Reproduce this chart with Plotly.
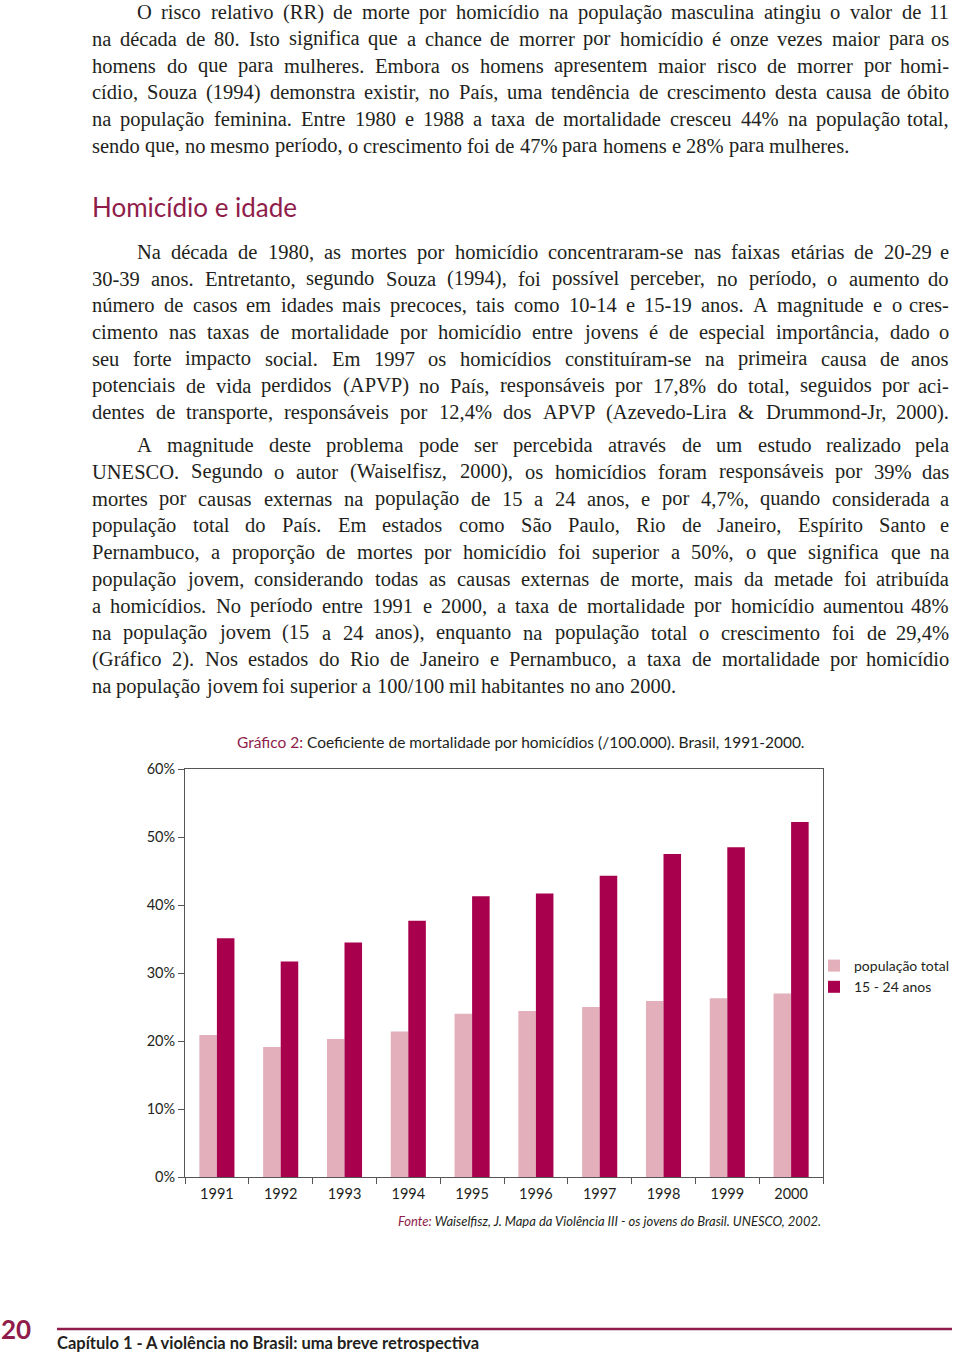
import unicodedata
import plotly.graph_objects as go

# ---------------- data ----------------
years = ["1991", "1992", "1993", "1994", "1995", "1996", "1997", "1998", "1999", "2000"]
pop_total = [20.9, 19.1, 20.3, 21.4, 24.0, 24.4, 25.0, 25.9, 26.3, 27.0]
jovens_15_24 = [35.1, 31.7, 34.5, 37.7, 41.3, 41.7, 44.3, 47.5, 48.5, 52.2]
series_names = ["população total", "15 - 24 anos"]
y_ticks = [0, 10, 20, 30, 40, 50, 60]
y_tick_labels = ["0%", "10%", "20%", "30%", "40%", "50%", "60%"]

para1 = [
    "O risco relativo (RR) de morte por homicídio na população masculina atingiu o valor de 11",
    "na década de 80. Isto significa que a chance de morrer por homicídio é onze vezes maior para os",
    "homens do que para mulheres. Embora os homens apresentem maior risco de morrer por homi-",
    "cídio, Souza (1994) demonstra existir, no País, uma tendência de crescimento desta causa de óbito",
    "na população feminina. Entre 1980 e 1988 a taxa de mortalidade cresceu 44% na população total,",
    "sendo que, no mesmo período, o crescimento foi de 47% para homens e 28% para mulheres.",
]
para2 = [
    "Na década de 1980, as mortes por homicídio concentraram-se nas faixas etárias de 20-29 e",
    "30-39 anos. Entretanto, segundo Souza (1994), foi possível perceber, no período, o aumento do",
    "número de casos em idades mais precoces, tais como 10-14 e 15-19 anos. A magnitude e o cres-",
    "cimento nas taxas de mortalidade por homicídio entre jovens é de especial importância, dado o",
    "seu forte impacto social. Em 1997 os homicídios constituíram-se na primeira causa de anos",
    "potenciais de vida perdidos (APVP) no País, responsáveis por 17,8% do total, seguidos por aci-",
    "dentes de transporte, responsáveis por 12,4% dos APVP (Azevedo-Lira & Drummond-Jr, 2000).",
]
para3 = [
    "A magnitude deste problema pode ser percebida através de um estudo realizado pela",
    "UNESCO. Segundo o autor (Waiselfisz, 2000), os homicídios foram responsáveis por 39% das",
    "mortes por causas externas na população de 15 a 24 anos, e por 4,7%, quando considerada a",
    "população total do País. Em estados como São Paulo, Rio de Janeiro, Espírito Santo e",
    "Pernambuco, a proporção de mortes por homicídio foi superior a 50%, o que significa que na",
    "população jovem, considerando todas as causas externas de morte, mais da metade foi atribuída",
    "a homicídios. No período entre 1991 e 2000, a taxa de mortalidade por homicídio aumentou 48%",
    "na população jovem (15 a 24 anos), enquanto na população total o crescimento foi de 29,4%",
    "(Gráfico 2). Nos estados do Rio de Janeiro e Pernambuco, a taxa de mortalidade por homicídio",
    "na população jovem foi superior a 100/100 mil habitantes no ano 2000.",
]
heading = "Homicídio e idade"
chart_title_lead = "Gráfico 2:"
chart_title_rest = " Coeficiente de mortalidade por homicídios (/100.000). Brasil, 1991-2000."
source_lead = "Fonte:"
source_rest = " Waiselfisz, J. Mapa da Violência III - os jovens do Brasil. UNESCO, 2002."
page_number = "20"
footer_text = "Capítulo 1 - A violência no Brasil: uma breve retrospectiva"

# ---------------- style ----------------
W, H = 960, 1357
CRIMSON = "#8F1C4A"
DARK = "#A8004C"
LIGHT = "#E2AFBA"
INK = "#231F20"
SERIF = "'Liberation Serif', 'Times New Roman', serif"
COND = "Lato, Roboto, sans-serif"
SANS = "Lato, Roboto, sans-serif"
BODY_SIZE = 20.5
LEFT, RIGHT, INDENT = 91, 950, 136


def px(x):
    return x / W


def py(y):
    return 1 - y / H


# Times-compatible advance widths (units / 1000 em) for justification
_w = {" ": 250, ".": 250, ",": 250, ":": 278, ";": 278, "(": 333, ")": 333, "-": 333,
      "%": 833, "&": 778, "/": 278, "'": 333}
for c in "0123456789":
    _w[c] = 500
for c, v in zip("ABCDEFGHIJKLMNOPQRSTUVWXYZ",
                [722, 667, 667, 722, 611, 556, 722, 722, 333, 389, 722, 611, 889,
                 722, 722, 556, 722, 667, 556, 611, 722, 722, 944, 722, 722, 611]):
    _w[c] = v
for c, v in zip("abcdefghijklmnopqrstuvwxyz",
                [444, 500, 444, 500, 444, 333, 500, 500, 278, 278, 500, 278, 778,
                 500, 500, 500, 500, 333, 389, 278, 500, 500, 722, 500, 500, 444]):
    _w[c] = v


def word_width(word, size):
    tot = 0
    for ch in word:
        base = unicodedata.normalize("NFD", ch)[0]
        tot += _w.get(base, 500)
    return tot * size / 1000


annotations = []


def add_paragraph(lines, y0, step, justify_last=False):
    for i, line in enumerate(lines):
        y = y0 + i * step
        left = INDENT if i == 0 else LEFT
        words = line.split(" ")
        widths = [word_width(w_, BODY_SIZE) for w_ in words]
        last = i == len(lines) - 1
        justify = (not last) or justify_last
        if justify and len(words) > 1:
            gap = (RIGHT - left - sum(widths)) / (len(words) - 1)
        else:
            gap = 250 * BODY_SIZE / 1000
        x = left
        for j, (wd, ww) in enumerate(zip(words, widths)):
            right_end = justify and j == len(words) - 1 and len(words) > 1
            annotations.append(dict(x=px(RIGHT if right_end else x), y=py(y),
                                    xref="paper", yref="paper", text=wd, showarrow=False,
                                    xanchor="right" if right_end else "left", yanchor="middle",
                                    font=dict(family=SERIF, size=BODY_SIZE, color=INK),
                                    borderpad=0))
            x += ww + gap


add_paragraph(para1, 12, 26.8)
add_paragraph(para2, 252, 26.7, justify_last=True)
add_paragraph(para3, 445, 26.8)

annotations.append(dict(x=px(LEFT), y=py(207), xref="paper", yref="paper", text=heading,
                        showarrow=False, xanchor="left", yanchor="middle", borderpad=0,
                        font=dict(family=COND, size=26, color=CRIMSON)))
annotations.append(dict(x=px(236), y=py(742), xref="paper", yref="paper",
                        text=f"<span style='color:{CRIMSON}'>{chart_title_lead}</span>{chart_title_rest}",
                        showarrow=False, xanchor="left", yanchor="middle", borderpad=0,
                        font=dict(family=COND, size=15.5, color=INK)))
annotations.append(dict(x=px(397), y=py(1221), xref="paper", yref="paper",
                        text=f"<i><span style='color:{CRIMSON}'>{source_lead}</span>{source_rest}</i>",
                        showarrow=False, xanchor="left", yanchor="middle", borderpad=0,
                        font=dict(family=COND, size=13, color=INK)))
annotations.append(dict(x=px(0), y=py(1329), xref="paper", yref="paper",
                        text=f"<b>{page_number}</b>", showarrow=False, xanchor="left", yanchor="middle",
                        borderpad=0, font=dict(family=COND, size=26, color=CRIMSON)))
annotations.append(dict(x=px(56), y=py(1343), xref="paper", yref="paper",
                        text=f"<b>{footer_text}</b>", showarrow=False, xanchor="left", yanchor="middle",
                        borderpad=0, font=dict(family=COND, size=16.5, color=INK)))

shapes = [dict(type="line", xref="paper", yref="paper", x0=px(57), x1=px(952),
               y0=py(1329), y1=py(1329), line=dict(color=CRIMSON, width=2.5))]

fig = go.Figure()
fig.add_trace(go.Bar(x=years, y=pop_total, name=series_names[0], marker=dict(color=LIGHT, line=dict(width=0))))
fig.add_trace(go.Bar(x=years, y=jovens_15_24, name=series_names[1], marker=dict(color=DARK, line=dict(width=0))))

fig.update_layout(
    width=W, height=H, autosize=False,
    margin=dict(l=0, r=0, t=0, b=0, pad=0, autoexpand=False),
    paper_bgcolor="white", plot_bgcolor="white",
    barmode="group", bargap=0.45, bargroupgap=0,
    showlegend=True,
    legend=dict(x=px(814), y=py(950), xanchor="left", yanchor="top",
                font=dict(family=SANS, size=14, color=INK), bgcolor="rgba(0,0,0,0)",
                tracegroupgap=0),
    xaxis=dict(domain=[px(185), px(823)], type="category", tickson="boundaries",
               ticks="outside", ticklen=6, tickcolor="#555", showline=True, linecolor="#555",
               linewidth=1, mirror=True, showgrid=False, automargin=False,
               ticklabelstandoff=4,
               tickfont=dict(family=SANS, size=14.5, color=INK)),
    yaxis=dict(domain=[py(1177), py(769)], range=[0, 60], tickmode="array",
               tickvals=y_ticks, ticktext=y_tick_labels,
               ticks="outside", ticklen=6, tickcolor="#555", showline=True, linecolor="#555",
               linewidth=1, mirror=True, showgrid=False, zeroline=False, automargin=False,
               tickfont=dict(family=SANS, size=14.5, color=INK)),
    annotations=annotations,
    shapes=shapes,
)

fig.write_html("out.html", config={"displayModeBar": False},
               post_script="document.body.style.margin='0';")
